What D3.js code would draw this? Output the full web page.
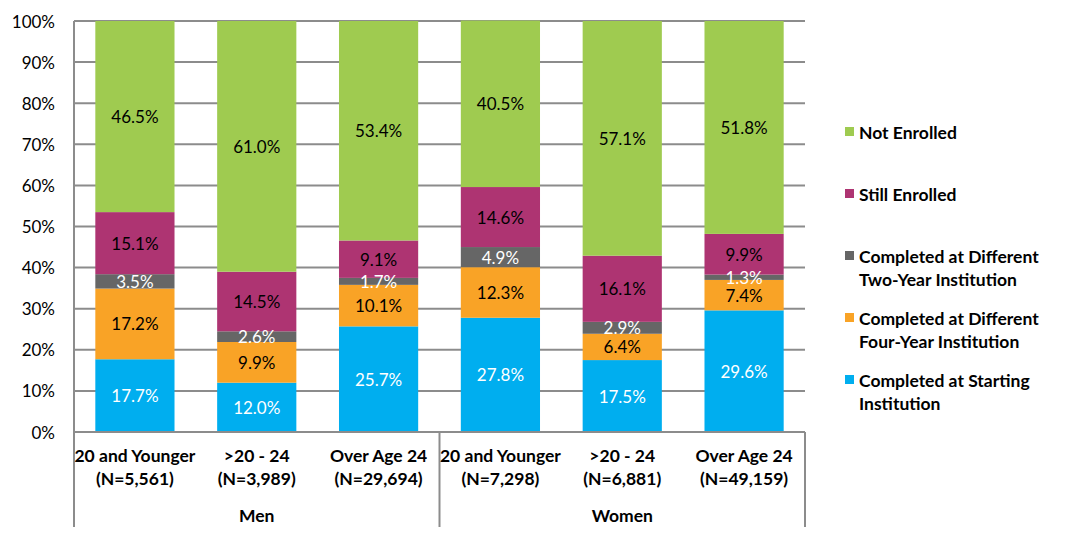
<!DOCTYPE html>
<html>
<head>
<meta charset="utf-8">
<script src="https://cdn.jsdelivr.net/npm/d3@7"></script>
<style>
  body { margin: 0; background: #fff; }
  svg { font-family: Lato, "Open Sans", sans-serif; }
</style>
</head>
<body>
<svg id="chart" width="1066" height="538"></svg>
<script>
// data
const groups = ['Men', 'Women'];
const ageBands = ['20 and Younger', '>20 - 24', 'Over Age 24'];
const counts = ['N=5,561', 'N=3,989', 'N=29,694', 'N=7,298', 'N=6,881', 'N=49,159'];
const seriesNames = [
  'Completed at Starting Institution',
  'Completed at Different Four-Year Institution',
  'Completed at Different Two-Year Institution',
  'Still Enrolled',
  'Not Enrolled'
];
const startingInst = [17.7, 12.0, 25.7, 27.8, 17.5, 29.6];
const fourYear = [17.2, 9.9, 10.1, 12.3, 6.4, 7.4];
const twoYear = [3.5, 2.6, 1.7, 4.9, 2.9, 1.3];
const stillEnrolled = [15.1, 14.5, 9.1, 14.6, 16.1, 9.9];
const notEnrolled = [46.5, 61.0, 53.4, 40.5, 57.1, 51.8];
const yTicks = [0, 10, 20, 30, 40, 50, 60, 70, 80, 90, 100];

const colors = ['#00AEEF', '#F9A326', '#666666', '#AE3472', '#9FCB50'];
const labelColors = ['#fff', '#000', '#fff', '#000', '#000'];
const legendLines = [
  ['Not Enrolled'],
  ['Still Enrolled'],
  ['Completed at Different', 'Two-Year Institution'],
  ['Completed at Different', 'Four-Year Institution'],
  ['Completed at Starting', 'Institution']
];

// build rows
const rows = counts.map((n, i) => ({
  key: 'c' + i,
  band: ageBands[i % 3],
  n: n,
  s0: startingInst[i], s1: fourYear[i], s2: twoYear[i], s3: stillEnrolled[i], s4: notEnrolled[i]
}));
const keys = ['s0', 's1', 's2', 's3', 's4'];
const stacked = d3.stack().keys(keys)(rows);

const svg = d3.select('#chart');
const plotLeft = 74, plotRight = 805, plotTop = 21, plotBottom = 432;

const x = d3.scaleBand().domain(rows.map(d => d.key)).range([plotLeft, plotRight]).paddingInner(0.35).paddingOuter(0.175);
const y = d3.scaleLinear().domain([0, 100]).range([plotBottom, plotTop]);

const grid = '#8C8C8C';

// gridlines
svg.append('g')
  .selectAll('line')
  .data(yTicks.slice(1))
  .join('line')
  .attr('x1', plotLeft).attr('x2', plotRight)
  .attr('y1', d => y(d)).attr('y2', d => y(d))
  .attr('stroke', grid).attr('stroke-width', 2);

// y labels
svg.append('g')
  .selectAll('text')
  .data(yTicks)
  .join('text')
  .attr('x', 55).attr('y', d => y(d))
  .attr('text-anchor', 'end')
  .attr('dominant-baseline', 'central')
  .attr('font-size', 17)
  .attr('fill', '#000')
  .text(d => d + '%');

// bars
const layer = svg.append('g')
  .selectAll('g')
  .data(stacked)
  .join('g')
  .attr('fill', (d, i) => colors[i]);

layer.selectAll('rect')
  .data(d => d)
  .join('rect')
  .attr('x', d => x(d.data.key))
  .attr('width', x.bandwidth())
  .attr('y', d => y(d[1]))
  .attr('height', d => y(d[0]) - y(d[1]));

// value labels
stacked.forEach((s, i) => {
  svg.append('g')
    .selectAll('text')
    .data(s)
    .join('text')
    .attr('x', d => x(d.data.key) + x.bandwidth() / 2)
    .attr('y', d => y((d[0] + d[1]) / 2))
    .attr('text-anchor', 'middle')
    .attr('dominant-baseline', 'central')
    .attr('font-size', 17)
    .attr('fill', labelColors[i])
    .text(d => d3.format('.1f')(d[1] - d[0]) + '%');
});

// axes lines
svg.append('line')
  .attr('x1', plotLeft).attr('x2', plotRight).attr('y1', plotBottom).attr('y2', plotBottom)
  .attr('stroke', grid).attr('stroke-width', 2);
const groupEdges = [plotLeft, (plotLeft + plotRight) / 2, plotRight];
svg.append('g')
  .selectAll('line')
  .data(groupEdges)
  .join('line')
  .attr('x1', d => d).attr('x2', d => d)
  .attr('y1', (d, i) => i === 0 ? plotTop : plotBottom)
  .attr('y2', 527)
  .attr('stroke', grid).attr('stroke-width', 2);

// category labels
const cat = svg.append('g')
  .selectAll('text')
  .data(rows)
  .join('text')
  .attr('text-anchor', 'middle')
  .attr('font-size', 17.5)
  .attr('font-weight', 'bold')
  .attr('fill', '#000');
cat.append('tspan').attr('x', d => x(d.key) + x.bandwidth() / 2).attr('y', 462).text(d => d.band);
cat.append('tspan').attr('x', d => x(d.key) + x.bandwidth() / 2).attr('y', 485).text(d => '(' + d.n + ')');

// group labels
svg.append('g')
  .selectAll('text')
  .data(groups)
  .join('text')
  .attr('x', (d, i) => (groupEdges[i] + groupEdges[i + 1]) / 2)
  .attr('y', 522)
  .attr('text-anchor', 'middle')
  .attr('font-size', 17.5)
  .attr('font-weight', 'bold')
  .text(d => d);

// legend
const legendY = [132, 194, 256, 318, 380];
const legend = svg.append('g')
  .selectAll('g')
  .data(legendLines)
  .join('g')
  .attr('transform', (d, i) => `translate(845, ${legendY[i]})`);
legend.append('rect')
  .attr('x', 0).attr('y', -5).attr('width', 9).attr('height', 9)
  .attr('fill', (d, i) => colors[4 - i]);
legend.append('text')
  .attr('font-size', 17.5)
  .attr('font-weight', 'bold')
  .selectAll('tspan')
  .data(d => d)
  .join('tspan')
  .attr('x', 14)
  .attr('y', (d, i) => i * 23)
  .attr('dominant-baseline', 'central')
  .text(d => d);
</script>
</body>
</html>
